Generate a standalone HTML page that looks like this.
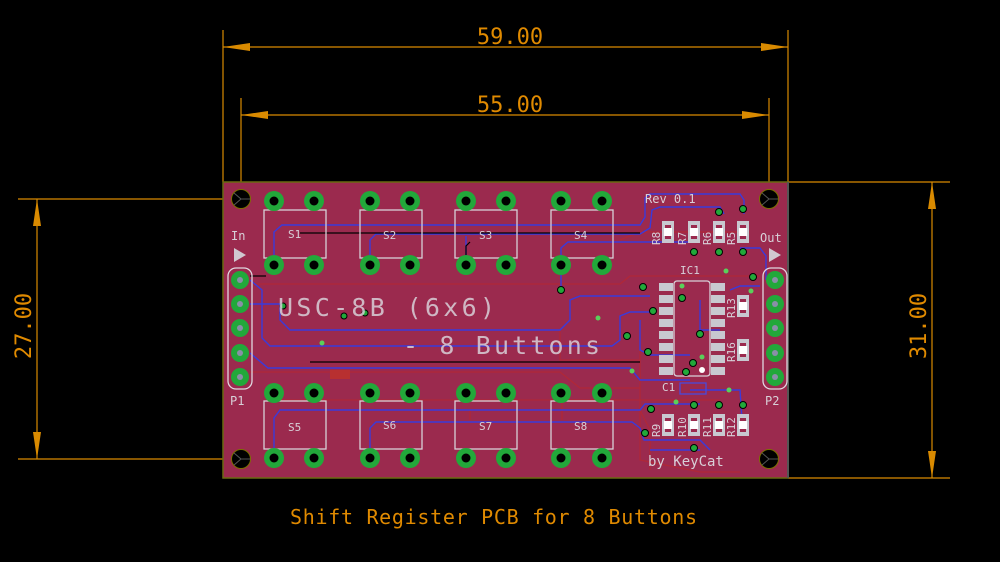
<!DOCTYPE html>
<html><head><meta charset="utf-8"><style>
html,body{margin:0;padding:0;background:#000;width:1000px;height:562px;overflow:hidden}
svg{display:block}
.t{font-family:"DejaVu Sans Mono","Liberation Mono",monospace}
</style></head><body>
<svg width="1000" height="562" viewBox="0 0 1000 562" xmlns="http://www.w3.org/2000/svg">
<defs>
<g id="pad"><circle r="10" fill="#22a83a"/><circle r="4.5" fill="#000"/></g>
<g id="hp"><circle r="9" fill="#22a83a"/><circle r="3" fill="#8a8fa8"/></g>
<g id="hole"><circle r="9.5" fill="#000" stroke="#7a7000" stroke-width="1"/><path d="M0 0L-7 -6M0 0L-7 6M0 0L9 0" stroke="#555" stroke-width="1"/></g>
<g id="res"><rect x="-6" y="-11" width="12" height="22" fill="#c8c8d0"/><rect x="-3" y="-7" width="6" height="14" fill="#9b2a4e"/><rect x="-4" y="-4" width="8" height="8" fill="#fff"/></g>
<g id="ipad"><rect x="-7" y="-4" width="14" height="8" fill="#c8c8d0"/></g>
</defs>

<g stroke="#d98a00" stroke-width="1.2" fill="none">
<line x1="223" y1="30" x2="223" y2="182"/><line x1="788" y1="30" x2="788" y2="182"/>
<line x1="223" y1="47" x2="788" y2="47"/>
<line x1="241" y1="98" x2="241" y2="199"/><line x1="769" y1="98" x2="769" y2="199"/>
<line x1="241" y1="115" x2="769" y2="115"/>
<line x1="18" y1="199" x2="241" y2="199"/><line x1="18" y1="459" x2="241" y2="459"/>
<line x1="37" y1="199" x2="37" y2="459"/>
<line x1="788" y1="182" x2="950" y2="182"/><line x1="788" y1="478" x2="950" y2="478"/>
<line x1="932" y1="182" x2="932" y2="478"/>
</g>
<g fill="#d98a00">
<path d="M223 47L250 43L250 51Z"/><path d="M788 47L761 43L761 51Z"/>
<path d="M241 115L268 111L268 119Z"/><path d="M769 115L742 111L742 119Z"/>
<path d="M37 199L33 226L41 226Z"/><path d="M37 459L33 432L41 432Z"/>
<path d="M932 182L928 209L936 209Z"/><path d="M932 478L928 451L936 451Z"/>
</g>
<g class="t" fill="#e08a00" font-size="22" text-anchor="middle">
<text x="510" y="44">59.00</text>
<text x="510" y="112">55.00</text>
<text transform="translate(31,326) rotate(-90)">27.00</text>
<text transform="translate(926,326) rotate(-90)">31.00</text>
</g>
<text class="t" x="290" y="524" fill="#e08a00" font-size="20" textLength="407" lengthAdjust="spacing">Shift Register PCB for 8 Buttons</text>

<rect x="223" y="182" width="565" height="296" fill="#9b2a4e" stroke="#6b6a10" stroke-width="1.5"/>
<line x1="788" y1="182" x2="788" y2="478" stroke="#555" stroke-width="2"/>

<g stroke="#b02838" stroke-width="1.3" fill="none">
<path d="M250 284L620 284L630 276L760 276"/>
<path d="M250 372L560 372L580 388L640 388"/>
<path d="M560 330L560 360L640 360"/>
<path d="M640 340L640 460L700 472L740 472"/>
<path d="M620 240L640 232L750 232"/>
<path d="M470 420L470 410L640 410L650 430L650 470"/>
<path d="M562 420L562 400L720 400"/>
<path d="M270 400L620 400"/>
</g>
<g stroke="#3a3adb" stroke-width="1.4" fill="none">
<path d="M274 265L274 232L282 225L640 225L645 217L645 198L650 194L740 194L744 200L744 214"/>
<path d="M370 265L370 240L376 234L640 234L650 228L652 210L660 207L720 207L724 214"/>
<path d="M466 265L466 236"/>
<path d="M561 265L561 248L568 242L650 242L700 242"/>
<path d="M561 265L561 290"/>
<path d="M250 280L262 290L262 338L270 346L612 346L620 340L620 316L630 312L650 312"/>
<path d="M250 304L280 304L280 320L290 330L560 330L570 320L570 300L580 296L650 296"/>
<path d="M250 353L268 368L630 368L640 380L690 380"/>
<path d="M274 458L274 418L280 410L640 410L645 404L700 404"/>
<path d="M370 458L370 428L376 422L632 422L640 428L644 440L700 440L710 450"/>
<path d="M740 248L760 248L766 256L766 280"/>
<path d="M700 300L700 330L720 330"/>
<path d="M730 290L740 286L760 286"/>
<path d="M640 320L640 350L650 355L690 355"/>
<path d="M690 390L740 390L742 420"/>
<path d="M650 450L700 450"/>
</g>
<g stroke="#000" stroke-width="1.2" fill="none">
<path d="M250 276L266 276"/><path d="M300 233L640 233"/>
<path d="M310 362L640 362"/><path d="M466 265L466 246L470 242"/>
</g>

<use href="#hole" x="241" y="199"/><use href="#hole" x="769" y="199"/>
<use href="#hole" x="241" y="459"/><use href="#hole" x="769" y="459"/>

<g fill="none" stroke="#d8d0d8" stroke-width="1.3">
<rect x="264" y="210" width="62" height="48"/><rect x="360" y="210" width="62" height="48"/>
<rect x="455" y="210" width="62" height="48"/><rect x="551" y="210" width="62" height="48"/>
<rect x="264" y="401" width="62" height="48"/><rect x="360" y="401" width="62" height="48"/>
<rect x="455" y="401" width="62" height="48"/><rect x="551" y="401" width="62" height="48"/>
</g>
<g>
<use href="#pad" x="274" y="201"/><use href="#pad" x="314" y="201"/><use href="#pad" x="370" y="201"/><use href="#pad" x="410" y="201"/>
<use href="#pad" x="466" y="201"/><use href="#pad" x="506" y="201"/><use href="#pad" x="561" y="201"/><use href="#pad" x="602" y="201"/>
<use href="#pad" x="274" y="265"/><use href="#pad" x="314" y="265"/><use href="#pad" x="370" y="265"/><use href="#pad" x="410" y="265"/>
<use href="#pad" x="466" y="265"/><use href="#pad" x="506" y="265"/><use href="#pad" x="561" y="265"/><use href="#pad" x="602" y="265"/>
<use href="#pad" x="274" y="393"/><use href="#pad" x="314" y="393"/><use href="#pad" x="370" y="393"/><use href="#pad" x="410" y="393"/>
<use href="#pad" x="466" y="393"/><use href="#pad" x="506" y="393"/><use href="#pad" x="561" y="393"/><use href="#pad" x="602" y="393"/>
<use href="#pad" x="274" y="458"/><use href="#pad" x="314" y="458"/><use href="#pad" x="370" y="458"/><use href="#pad" x="410" y="458"/>
<use href="#pad" x="466" y="458"/><use href="#pad" x="506" y="458"/><use href="#pad" x="561" y="458"/><use href="#pad" x="602" y="458"/>
</g>

<g fill="none" stroke="#e0d8e0" stroke-width="1.3">
<rect x="228" y="268" width="24" height="121" rx="8"/>
<rect x="763" y="268" width="24" height="121" rx="8"/>
</g>
<use href="#hp" x="240" y="280"/><use href="#hp" x="240" y="304"/><use href="#hp" x="240" y="328"/><use href="#hp" x="240" y="353"/><use href="#hp" x="240" y="377"/>
<use href="#hp" x="775" y="280"/><use href="#hp" x="775" y="304"/><use href="#hp" x="775" y="328"/><use href="#hp" x="775" y="353"/><use href="#hp" x="775" y="377"/>
<path d="M234 248L246 255L234 262Z" fill="#d0c8d0"/>
<path d="M769 248L781 255L769 262Z" fill="#d0c8d0"/>

<rect x="674" y="281" width="36" height="95" rx="3" fill="none" stroke="#d8d0d8" stroke-width="1.3"/>
<g>
<use href="#ipad" x="666" y="287"/><use href="#ipad" x="666" y="299"/><use href="#ipad" x="666" y="311"/><use href="#ipad" x="666" y="323"/>
<use href="#ipad" x="666" y="335"/><use href="#ipad" x="666" y="347"/><use href="#ipad" x="666" y="359"/><use href="#ipad" x="666" y="371"/>
<use href="#ipad" x="718" y="287"/><use href="#ipad" x="718" y="299"/><use href="#ipad" x="718" y="311"/><use href="#ipad" x="718" y="323"/>
<use href="#ipad" x="718" y="335"/><use href="#ipad" x="718" y="347"/><use href="#ipad" x="718" y="359"/><use href="#ipad" x="718" y="371"/>
</g>
<circle cx="702" cy="370" r="3" fill="#fff"/>
<rect x="680" y="383" width="26" height="11" fill="none" stroke="#4a4adb" stroke-width="1.3"/>
<use href="#res" x="668" y="232"/><use href="#res" x="694" y="232"/><use href="#res" x="719" y="232"/><use href="#res" x="743" y="232"/>
<use href="#res" x="743" y="306"/><use href="#res" x="743" y="350"/>
<use href="#res" x="668" y="425"/><use href="#res" x="694" y="425"/><use href="#res" x="719" y="425"/><use href="#res" x="743" y="425"/>
<rect x="330" y="370" width="20" height="9" fill="#b83030"/>

<g fill="#22a83a" stroke="#000" stroke-width="1">
<circle cx="719" cy="212" r="3.5"/><circle cx="743" cy="209" r="3.5"/><circle cx="694" cy="252" r="3.5"/><circle cx="719" cy="252" r="3.5"/><circle cx="743" cy="252" r="3.5"/>
<circle cx="643" cy="287" r="3.5"/><circle cx="682" cy="298" r="3.5"/><circle cx="653" cy="311" r="3.5"/><circle cx="627" cy="336" r="3.5"/>
<circle cx="700" cy="334" r="3.5"/><circle cx="648" cy="352" r="3.5"/><circle cx="693" cy="363" r="3.5"/><circle cx="686" cy="372" r="3.5"/>
<circle cx="753" cy="277" r="3.5"/><circle cx="561" cy="290" r="3.5"/><circle cx="344" cy="316" r="3"/><circle cx="651" cy="409" r="3.5"/>
<circle cx="645" cy="433" r="3.5"/><circle cx="694" cy="405" r="3.5"/><circle cx="719" cy="405" r="3.5"/><circle cx="743" cy="405" r="3.5"/><circle cx="694" cy="448" r="3.5"/>
<circle cx="283" cy="306" r="3"/><circle cx="365" cy="313" r="3"/>
</g>
<g fill="#5ad05a"><circle cx="322" cy="343" r="2.5"/><circle cx="598" cy="318" r="2.5"/><circle cx="632" cy="371" r="2.5"/><circle cx="676" cy="402" r="2.5"/><circle cx="729" cy="390" r="2.5"/><circle cx="726" cy="271" r="2.5"/><circle cx="751" cy="291" r="2.5"/><circle cx="702" cy="357" r="2.5"/><circle cx="682" cy="286" r="2.5"/></g>

<g class="t" fill="#d8d0d8">
<text x="278" y="316" font-size="25" fill-opacity="0.85" textLength="217" lengthAdjust="spacing">USC-8B (6x6)</text>
<text x="403" y="354" font-size="25" fill-opacity="0.85" textLength="197" lengthAdjust="spacing">- 8 Buttons</text>
<text x="645" y="203" font-size="12">Rev 0.1</text>
<text x="648" y="466" font-size="14">by KeyCat</text>
<text x="231" y="240" font-size="12">In</text>
<text x="760" y="242" font-size="12">Out</text>
<text x="230" y="405" font-size="12">P1</text>
<text x="765" y="405" font-size="12">P2</text>
<text x="680" y="274" font-size="11">IC1</text>
<text x="662" y="391" font-size="11">C1</text>
<g font-size="11">
<text x="288" y="238">S1</text><text x="383" y="239">S2</text><text x="479" y="239">S3</text><text x="574" y="239">S4</text>
<text x="288" y="431">S5</text><text x="383" y="429">S6</text><text x="479" y="430">S7</text><text x="574" y="430">S8</text>
<text transform="translate(660,245) rotate(-90)">R8</text><text transform="translate(686,245) rotate(-90)">R7</text>
<text transform="translate(711,245) rotate(-90)">R6</text><text transform="translate(735,245) rotate(-90)">R5</text>
<text transform="translate(735,318) rotate(-90)">R13</text><text transform="translate(735,362) rotate(-90)">R16</text>
<text transform="translate(660,437) rotate(-90)">R9</text><text transform="translate(686,437) rotate(-90)">R10</text>
<text transform="translate(711,437) rotate(-90)">R11</text><text transform="translate(735,437) rotate(-90)">R12</text>
</g>
</g>
</svg>
</body></html>
